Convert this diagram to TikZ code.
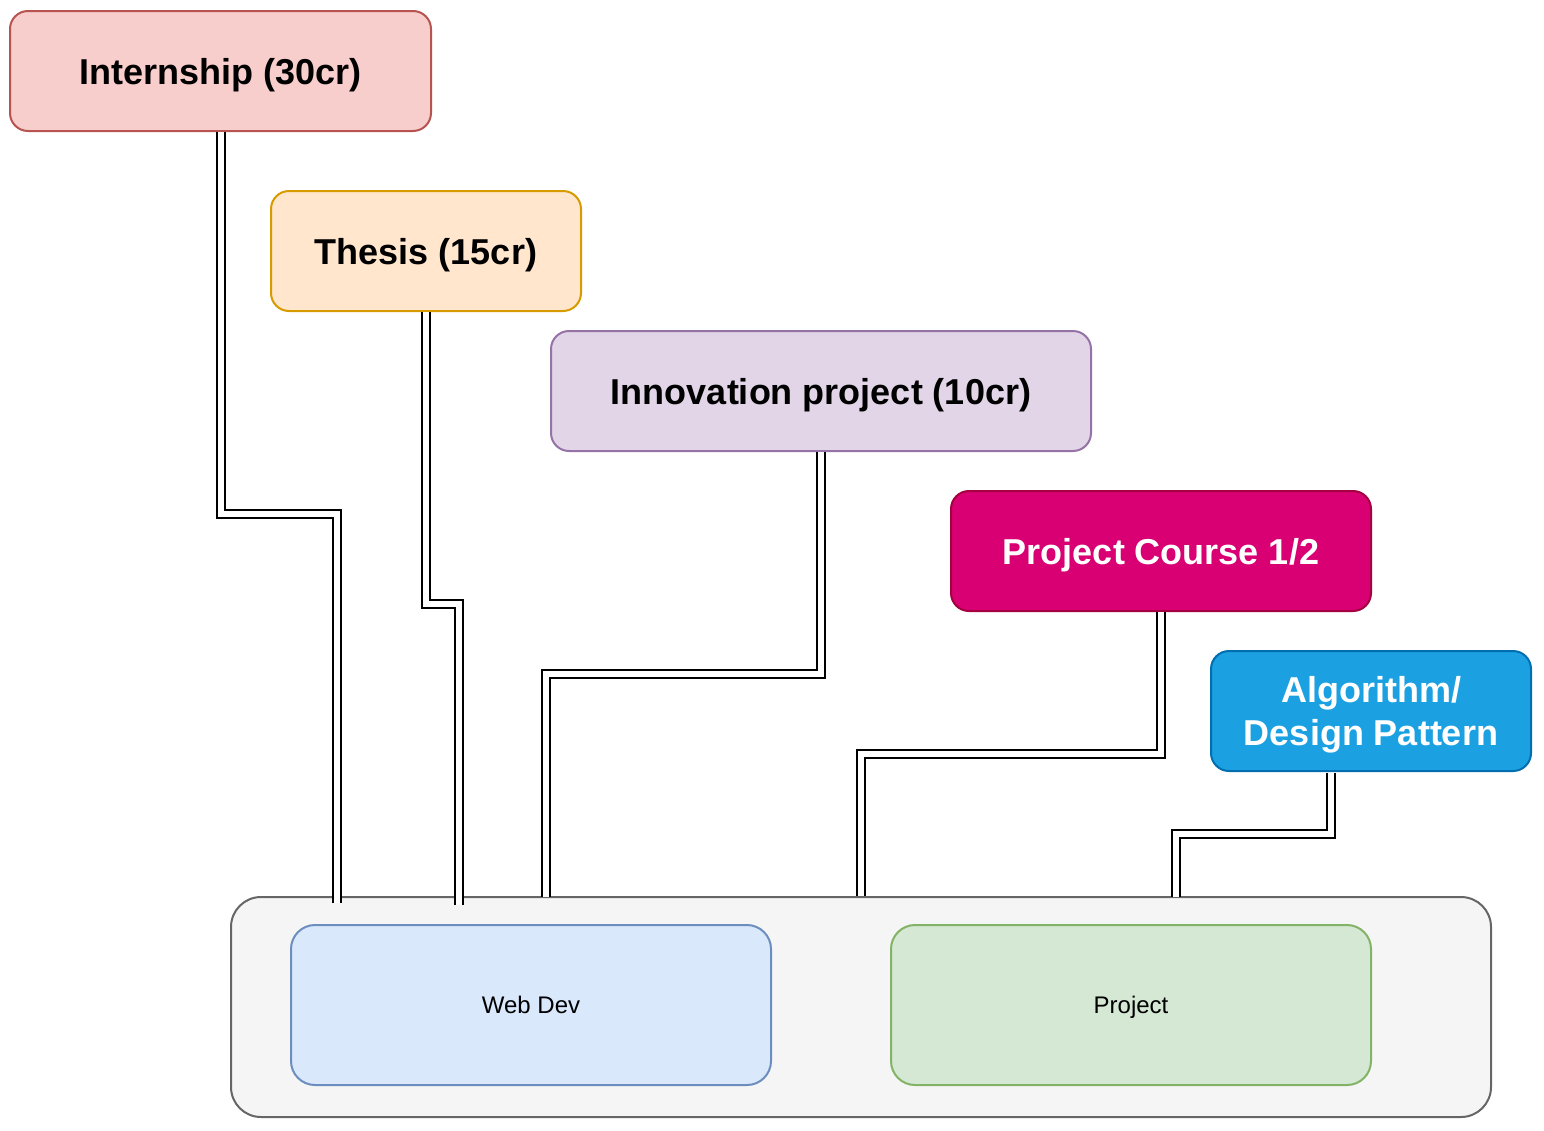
\documentclass[tikz,border=0pt]{standalone}
\usepackage{fontspec}
\setmainfont{Liberation Sans}
\begin{document}
\begin{tikzpicture}[x=1pt,y=-1pt,
  box/.style={draw, line width=2pt, rounded corners=18pt, inner sep=0pt, align=center, text depth=0pt,
              minimum height=120pt, font=\fontsize{36}{43.2}\selectfont\bfseries},
  inbox/.style={draw, line width=2pt, rounded corners=24pt, inner sep=0pt, text depth=0pt,
              minimum width=480pt, minimum height=160pt, font=\fontsize{24}{28.8}\selectfont},
  link/.style={draw=black, line width=2pt, double=white, double distance=6pt, line join=miter}
]
\useasboundingbox (0,0) rectangle (1544,1130);
\definecolor{c1f}{HTML}{F8CECC}\definecolor{c1d}{HTML}{B85450}
\definecolor{c2f}{HTML}{FFE6CC}\definecolor{c2d}{HTML}{D79B00}
\definecolor{c3f}{HTML}{E1D5E7}\definecolor{c3d}{HTML}{9673A6}
\definecolor{c4f}{HTML}{D80073}\definecolor{c4d}{HTML}{A50040}
\definecolor{c5f}{HTML}{1BA1E2}\definecolor{c5d}{HTML}{006EAF}
\definecolor{c6f}{HTML}{F5F5F5}\definecolor{c6d}{HTML}{666666}
\definecolor{c7f}{HTML}{DAE8FC}\definecolor{c7d}{HTML}{6C8EBF}
\definecolor{c8f}{HTML}{D5E8D4}\definecolor{c8d}{HTML}{82B366}

\node[box, fill=c1f, draw=c1d, minimum width=421pt] (intern) at (220.5,71) {Internship (30cr)};
\node[box, fill=c2f, draw=c2d, minimum width=310pt] (thesis) at (426,251) {Thesis (15cr)};
\node[box, fill=c3f, draw=c3d, minimum width=540pt] (innov) at (821,391) {Innovation project (10cr)};
\node[box, fill=c4f, draw=c4d, minimum width=420pt, text=white] (pc) at (1161,551) {Project Course 1/2};
\node[box, fill=c5f, draw=c5d, minimum width=320pt, text=white] (algo) at (1371,711) {Algorithm/\\Design Pattern};

\node[draw=c6d, fill=c6f, line width=2pt, rounded corners=30pt, minimum width=1260pt, minimum height=220pt] (cont) at (861,1007) {};
\node[inbox, fill=c7f, draw=c7d] (web) at (531,1005) {Web Dev};
\node[inbox, fill=c8f, draw=c8d] (proj) at (1131,1005) {Project};

\coordinate (b1) at (337,514); \coordinate (e1) at (337,903);
\coordinate (b2) at (459,604); \coordinate (e2) at (459,905);
\coordinate (b3) at (546,674); \coordinate (e3) at (546,897);
\coordinate (b4) at (861,754);
\coordinate (s5) at (1331,773); \coordinate (b5) at (1176,834); \coordinate (e5) at (1176,897);

\draw[link] (intern.south) |- (b1) -- (e1);
\draw[link] ([xshift=-0.5pt]thesis.south) |- (b2) -- (e2);
\draw[link] (innov.south) |- (b3) -- (e3);
\draw[link] (pc.south) |- (b4) -- (cont.north);
\draw[link] (s5) |- (b5) -- (e5);
\end{tikzpicture}
\end{document}
